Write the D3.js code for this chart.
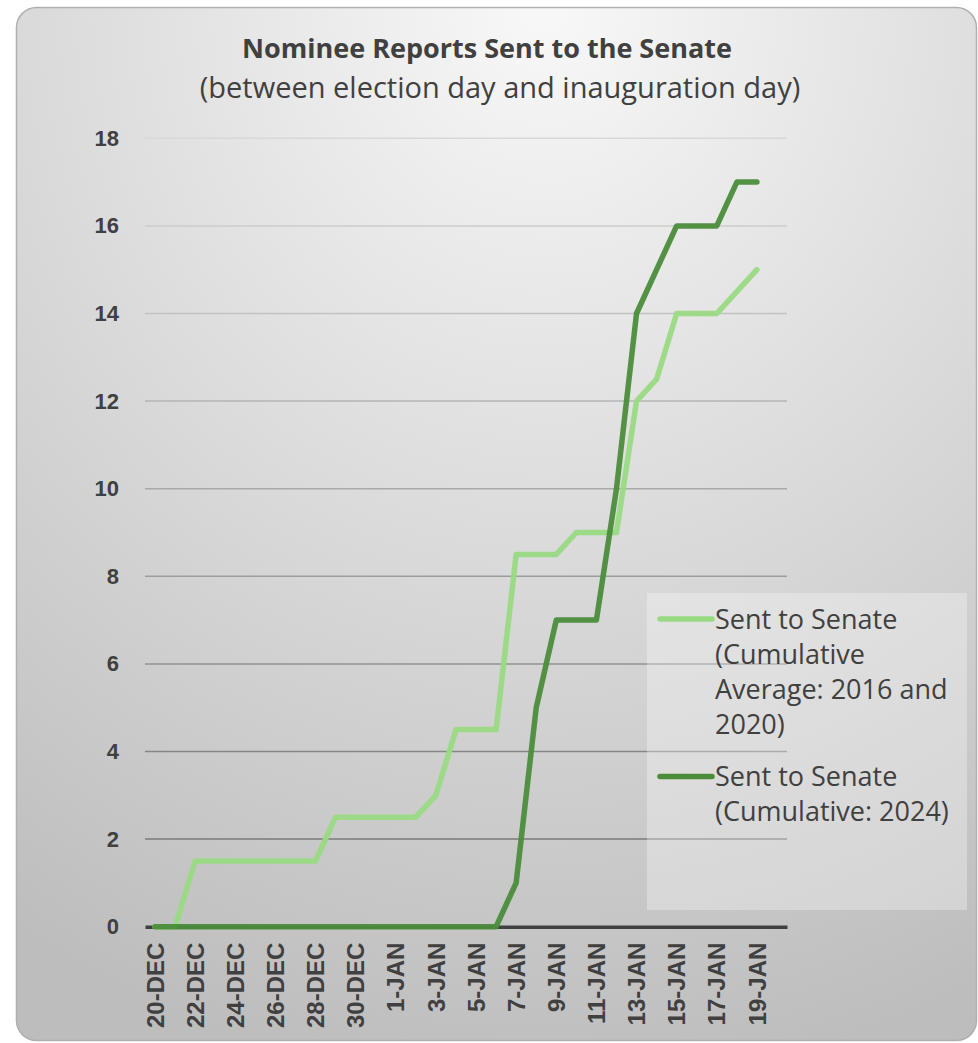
<!DOCTYPE html>
<html>
<head>
<meta charset="utf-8">
<script src="https://cdn.jsdelivr.net/npm/d3@7"></script>
<style>
  body { margin: 0; background: #fff; }
  svg { display: block; }
</style>
</head>
<body>
<svg id="chart" width="978" height="1043"></svg>
<script>
// categories: one per day, 20-DEC .. 20-JAN (last day has no value)
var days = ["20-DEC","21-DEC","22-DEC","23-DEC","24-DEC","25-DEC","26-DEC","27-DEC","28-DEC","29-DEC","30-DEC","31-DEC",
            "1-JAN","2-JAN","3-JAN","4-JAN","5-JAN","6-JAN","7-JAN","8-JAN","9-JAN","10-JAN","11-JAN","12-JAN",
            "13-JAN","14-JAN","15-JAN","16-JAN","17-JAN","18-JAN","19-JAN","20-JAN"];
var tickLabels = ["20-DEC","22-DEC","24-DEC","26-DEC","28-DEC","30-DEC","1-JAN","3-JAN","5-JAN","7-JAN",
                  "9-JAN","11-JAN","13-JAN","15-JAN","17-JAN","19-JAN"];
var yTicks = [0, 2, 4, 6, 8, 10, 12, 14, 16, 18];

// Sent to Senate (Cumulative Average: 2016 and 2020)
var avgValues = [0, 0, 1.5, 1.5, 1.5, 1.5, 1.5, 1.5, 1.5, 2.5, 2.5, 2.5, 2.5, 2.5, 3, 4.5, 4.5, 4.5,
                 8.5, 8.5, 8.5, 9, 9, 9, 12, 12.5, 14, 14, 14, 14.5, 15];
// Sent to Senate (Cumulative: 2024)
var values2024 = [0, 0, 0, 0, 0, 0, 0, 0, 0, 0, 0, 0, 0, 0, 0, 0, 0, 0,
                  1, 5, 7, 7, 7, 10, 14, 15, 16, 16, 16, 17, 17];

var legendLines = [["Sent to Senate", "(Cumulative", "Average: 2016 and", "2020)"],
                   ["Sent to Senate", "(Cumulative: 2024)"]];
var seriesColors = ["#99da84", "#4b8c3b"];

var svg = d3.select("#chart");
var defs = svg.append("defs");

var bg = defs.append("radialGradient")
    .attr("id", "bg")
    .attr("cx", "0.55").attr("cy", "0.0")
    .attr("r", "1.05");
bg.append("stop").attr("offset", "0").attr("stop-color", "#f8f8f8");
bg.append("stop").attr("offset", "1").attr("stop-color", "#bdbdbd");

// chart frame
svg.append("rect")
    .attr("x", 16.5).attr("y", 7.5)
    .attr("width", 960).attr("height", 1033)
    .attr("rx", 20).attr("ry", 20)
    .attr("fill", "url(#bg)")
    .attr("stroke", "#b0b0b0")
    .attr("stroke-width", 1.5);

var xScale = d3.scaleBand().domain(days).range([145, 787]).padding(0),
    yScale = d3.scaleLinear().domain([0, 18]).range([926.7, 138.3]),
    xMid = function(d) { return xScale(d) + xScale.bandwidth() / 2; };

var gridColor = d3.scaleLinear().domain([2, 18]).range(["#7a7a7a", "#d8d8d8"]);

// gridlines
svg.append("g").attr("class", "grid")
    .selectAll("line")
    .data(yTicks.filter(function(t) { return t > 0; }))
    .enter().append("line")
    .attr("x1", 145).attr("x2", 787)
    .attr("y1", function(d) { return yScale(d); })
    .attr("y2", function(d) { return yScale(d); })
    .attr("stroke", function(d) { return gridColor(d); })
    .attr("stroke-width", 1.5);

// y axis labels
var yAxis = svg.append("g")
    .attr("transform", "translate(145,0)")
    .call(d3.axisLeft(yScale).tickValues(yTicks).tickSize(0).tickPadding(26));
yAxis.select(".domain").remove();
yAxis.selectAll("text")
    .attr("fill", "#404040")
    .style("font-family", "'Liberation Sans', Arial, sans-serif")
    .style("font-size", "22px")
    .style("font-weight", "bold");

// x axis
var xAxis = svg.append("g")
    .attr("transform", "translate(0," + yScale(0) + ")")
    .call(d3.axisBottom(xScale)
        .tickValues(tickLabels)
        .tickSize(0)
        .tickSizeOuter(0));
xAxis.select(".domain")
    .attr("stroke", "#404040")
    .attr("stroke-width", 3.5);
xAxis.selectAll("text")
    .attr("fill", "#404040")
    .attr("text-anchor", "end")
    .attr("dy", "0.36em")
    .attr("y", 0)
    .attr("transform", "translate(0,16) rotate(-90)")
    .style("font-family", "'Liberation Sans', Arial, sans-serif")
    .style("font-size", "24px")
    .style("font-weight", "bold");

// lines
var line = d3.line()
    .x(function(d, i) { return xMid(days[i]); })
    .y(function(d) { return yScale(d); });

[avgValues, values2024].forEach(function(vals, k) {
    svg.append("path")
        .datum(vals)
        .attr("fill", "none")
        .attr("stroke", seriesColors[k])
        .attr("stroke-opacity", 0.95)
        .attr("stroke-width", 5.5)
        .attr("stroke-linejoin", "round")
        .attr("stroke-linecap", "round")
        .attr("d", line);
});

// legend
var legend = svg.append("g").attr("class", "legend");
legend.append("rect")
    .attr("x", 647).attr("y", 593)
    .attr("width", 320).attr("height", 317)
    .attr("fill", "#ffffff")
    .attr("fill-opacity", 0.3);

var legendY = [619, 776.5];
legendLines.forEach(function(lines, k) {
    legend.append("line")
        .attr("x1", 660).attr("x2", 712)
        .attr("y1", legendY[k]).attr("y2", legendY[k])
        .attr("stroke", seriesColors[k])
        .attr("stroke-width", 5.5)
        .attr("stroke-linecap", "round");
    var t = legend.append("text")
        .attr("x", 715)
        .attr("y", legendY[k] + 9.5)
        .attr("fill", "#404040")
        .style("font-family", "'Open Sans', sans-serif")
        .style("font-size", "27px");
    lines.forEach(function(s, j) {
        t.append("tspan").attr("x", 715).attr("dy", j === 0 ? 0 : 35).text(s);
    });
});

// titles
svg.append("text")
    .attr("x", 487).attr("y", 58)
    .attr("text-anchor", "middle")
    .attr("fill", "#404040")
    .style("font-family", "'Open Sans', sans-serif")
    .style("font-size", "27px")
    .style("font-weight", "bold")
    .text("Nominee Reports Sent to the Senate");
svg.append("text")
    .attr("x", 500).attr("y", 98)
    .attr("text-anchor", "middle")
    .attr("fill", "#404040")
    .style("font-family", "'Open Sans', sans-serif")
    .style("font-size", "29px")
    .text("(between election day and inauguration day)");
</script>
</body>
</html>
